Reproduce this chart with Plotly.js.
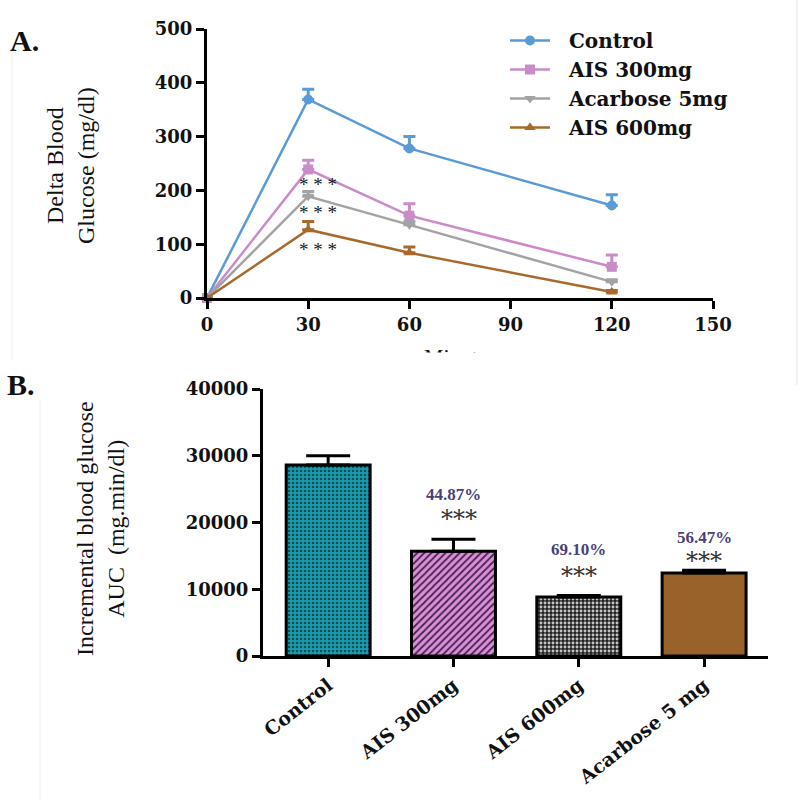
<!DOCTYPE html>
<html>
<head>
<meta charset="utf-8">
<script src="https://cdn.plot.ly/plotly-3.0.1.min.js"></script>
<style>html,body{margin:0;padding:0;background:#fff;}#chart{width:800px;height:800px;}</style>
</head>
<body>
<div id="chart"></div>
<script>
// ---------- Panel A data ----------
const times = [0, 30, 60, 120];
const seriesNames = ["Control", "AIS 300mg", "Acarbose 5mg", "AIS 600mg"];
const controlGlucose = [0, 369, 278, 172];
const controlErr = [0, 19, 22, 20];
const ais300Glucose = [0, 239, 153, 58];
const ais300Err = [0, 17, 22, 22];
const acarboseGlucose = [0, 189, 136, 30];
const acarboseErr = [0, 9, 6, 4];
const ais600Glucose = [0, 127, 84, 11];
const ais600Err = [0, 15, 11, 3];
const xTicksA = [0, 30, 60, 90, 120, 150];
const yTicksA = [0, 100, 200, 300, 400, 500];
const starsA = ["* * *", "* * *", "* * *"];
const starsAY = [211, 159, 91];
const starsAX = 33;

// ---------- Panel B data ----------
const groups = ["Control", "AIS 300mg", "AIS 600mg", "Acarbose 5 mg"];
const aucValues = [28600, 15700, 8850, 12450];
const aucErr = [1400, 1800, 200, 400];
const reductionLabels = ["", "44.87%", "69.10%", "56.47%"];
const reductionY = [0, 24200, 15900, 17700];
const starsB = ["", "***", "***", "***"];
const starsBY = [0, 20500, 12000, 14200];
const yTicksB = [0, 10000, 20000, 30000, 40000];

const serif = "Liberation Serif, Times New Roman, serif";
const wide = "DejaVu Serif, serif";

const colA = ["#5b9bd5", "#c98bc9", "#a3a3a3", "#a86a2c"];
const symA = ["circle", "square", "triangle-down", "triangle-up"];
const valsA = [controlGlucose, ais300Glucose, acarboseGlucose, ais600Glucose];
const errsA = [controlErr, ais300Err, acarboseErr, ais600Err];

const barBase = ["#1a9cae", "#d890d8", "#222222", "#98622a"];
const barPatternShape = [".", "/", ".", ""];
const barPatternColor = ["#0b4f59", "#4a2050", "#c4c4c4", "#98622a"];

const traces = [];
for (let i = 0; i < 4; i++) {
  traces.push({
    type: "scatter", mode: "lines+markers",
    x: times, y: valsA[i], name: "\u00a0\u00a0" + seriesNames[i],
    xaxis: "x", yaxis: "y", cliponaxis: false,
    line: {color: colA[i], width: 2.5},
    marker: {color: colA[i], symbol: symA[i], size: 10},
    error_y: {type: "data", symmetric: false, array: errsA[i], arrayminus: times.map(() => 0),
              color: colA[i], thickness: 3, width: 6}
  });
}

// solid base of the bars
traces.push({
  type: "bar", x: groups, y: aucValues, xaxis: "x2", yaxis: "y2",
  showlegend: false, width: 0.67, hoverinfo: "skip",
  marker: {color: barBase, line: {color: "#000", width: 0}}
});
// patterned overlay with outline and error bars
traces.push({
  type: "bar", x: groups, y: aucValues, xaxis: "x2", yaxis: "y2",
  showlegend: false, width: 0.67,
  marker: {
    color: "rgba(0,0,0,0)",
    line: {color: "#000", width: 3},
    pattern: {
      shape: barPatternShape,
      fgcolor: barPatternColor,
      bgcolor: "rgba(0,0,0,0)",
      size: [4, 5, 4, 8], solidity: [0.35, 0.35, 0.42, 0.3],
      fgopacity: 1,
      fillmode: "overlay"
    }
  },
  error_y: {type: "data", symmetric: false, array: aucErr, arrayminus: aucErr.map(() => 0),
            color: "#000", thickness: 3, width: 22}
});

const annotations = [];
annotations.push({xref: "paper", yref: "paper", x: 8/800, y: 1 - 40/800, xanchor: "left", yanchor: "middle",
  text: "<b>A.</b>", showarrow: false, font: {family: serif, size: 30, color: "#111"}});
annotations.push({xref: "paper", yref: "paper", x: 5/800, y: 1 - 385/800, xanchor: "left", yanchor: "middle",
  text: "<b>B.</b>", showarrow: false, font: {family: serif, size: 30, color: "#111"}});
// y-axis titles as rotated annotations
annotations.push({xref: "paper", yref: "paper", x: 70/800, y: 1 - 166/800, xanchor: "center", yanchor: "middle",
  text: "Delta Blood<br>Glucose (mg/dl)", textangle: -90, showarrow: false,
  font: {family: serif, size: 24, color: "#111"}});
annotations.push({xref: "paper", yref: "paper", x: 100/800, y: 1 - 529/800, xanchor: "center", yanchor: "middle",
  text: "Incremental blood glucose<br>AUC  (mg.min/dl)", textangle: -90, showarrow: false,
  font: {family: serif, size: 24, color: "#111"}});
// partially cut-off x title
annotations.push({xref: "paper", yref: "paper", x: 460/800, y: 1 - 356/800, xanchor: "center", yanchor: "middle",
  text: "Minutes", showarrow: false, font: {family: serif, size: 22, color: "#111"}});
annotations.push({xref: "paper", yref: "paper", x: 460/800, y: 1 - 352/800, xanchor: "center", yanchor: "top",
  text: "\u00a0", showarrow: false, bgcolor: "#ffffff", width: 220, height: 30, font: {size: 10}});

for (let i = 0; i < starsA.length; i++) {
  annotations.push({xref: "x", yref: "y", x: starsAX, y: starsAY[i], text: starsA[i], showarrow: false,
    font: {family: serif, size: 19, color: "#1a1a1a"}});
}
for (let i = 0; i < groups.length; i++) {
  if (reductionLabels[i]) {
    annotations.push({xref: "x2", yref: "y2", x: groups[i], y: reductionY[i], text: "<b>" + reductionLabels[i] + "</b>",
      showarrow: false, font: {family: serif, size: 17, color: "#4a3f78"}});
  }
  if (starsB[i]) {
    annotations.push({xref: "x2", yref: "y2", x: groups[i], y: starsBY[i], text: starsB[i], xshift: i === 1 ? 6 : 0,
      showarrow: false, font: {family: wide, size: 24, color: "#333"}});
  }
}

const axisCommon = {
  showline: true, linecolor: "#000", linewidth: 3, ticks: "outside", tickcolor: "#000",
  ticklen: 8, tickwidth: 3, showgrid: false, zeroline: false,
  tickfont: {family: wide, size: 18, color: "#111", weight: "bold"}
};

const layout = {
  width: 800, height: 800, margin: {l: 0, r: 0, t: 0, b: 0},
  paper_bgcolor: "#fff", plot_bgcolor: "rgba(0,0,0,0)",
  showlegend: true, barmode: "overlay",
  legend: {x: 505/800, y: 1 - 21/800, xanchor: "left", yanchor: "top",
    font: {family: wide, size: 20, color: "#111", weight: "bold"}, itemwidth: 40, tracegroupgap: 0,
    bgcolor: "rgba(0,0,0,0)"},
  xaxis: Object.assign({}, axisCommon, {domain: [207/800, 713/800], range: [0, 150],
    tickvals: xTicksA, anchor: "y"}),
  yaxis: Object.assign({}, axisCommon, {domain: [1 - 298/800, 1 - 29/800], range: [0, 500],
    tickvals: yTicksA, anchor: "x"}),
  xaxis2: Object.assign({}, axisCommon, {domain: [263/800, 768/800], range: [-0.52, 3.51],
    tickangle: -38, anchor: "y2", type: "category",
    tickfont: {family: wide, size: 19, color: "#111", weight: "bold"}}),
  yaxis2: Object.assign({}, axisCommon, {domain: [1 - 656/800, 1 - 389/800], range: [0, 40000],
    tickvals: yTicksB, anchor: "x2", tickformat: "d"}),
  annotations: annotations,
  shapes: [
    {type: "line", xref: "paper", yref: "paper", x0: 797/800, x1: 797/800, y0: 1, y1: 1 - 385/800,
      line: {color: "#e4e4e4", width: 1}},
    {type: "line", xref: "paper", yref: "paper", x0: 12/800, x1: 12/800, y0: 1 - 45/800, y1: 1 - 360/800,
      line: {color: "#efefef", width: 1}},
    {type: "line", xref: "paper", yref: "paper", x0: 40/800, x1: 40/800, y0: 1 - 400/800, y1: 0,
      line: {color: "#ececec", width: 1}}
  ]
};

Plotly.newPlot("chart", traces, layout, {displayModeBar: false, staticPlot: true});
</script>
</body>
</html>
